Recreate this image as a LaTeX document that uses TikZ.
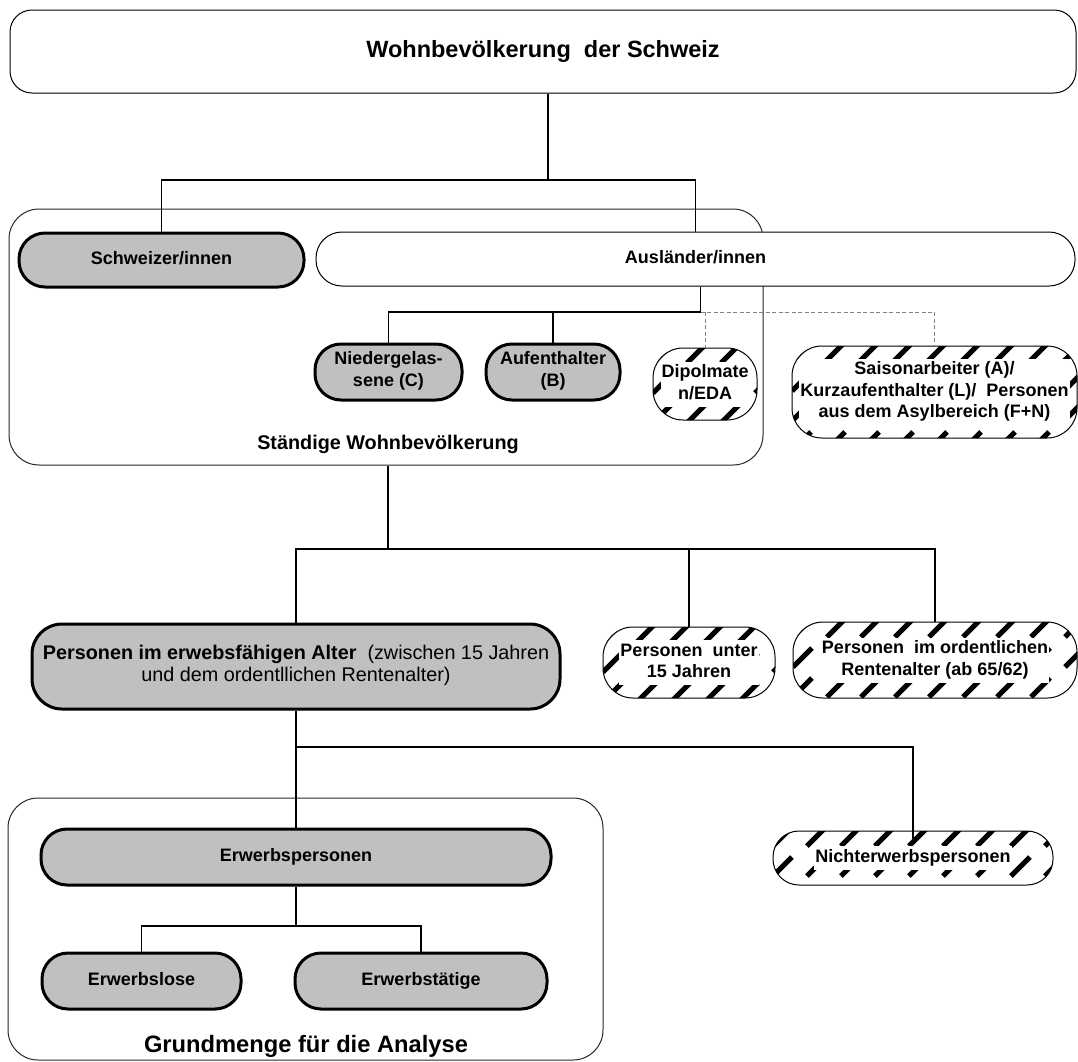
\documentclass[tikz,border=0pt]{standalone}
\usepackage{fontspec}
\setmainfont{Liberation Sans}
\usetikzlibrary{calc}
\definecolor{boxgray}{HTML}{C0C0C0}
\newcommand{\lbl}{\fontsize{18}{21.5}\selectfont\bfseries}
\newcommand{\wtext}[1]{{\setlength{\fboxsep}{1pt}\colorbox{white}{\begin{tabular}{@{}c@{}}#1\end{tabular}}}}
\begin{document}
\begin{tikzpicture}[x=1pt,y=-1pt,
  conn/.style={line width=1.2pt, black},
  dconn/.style={line width=1pt, black!50, dash pattern=on 4pt off 2.5pt},
  outerbox/.style={draw=black!85, line width=1pt, rounded corners=30pt, inner sep=0pt},
  whitebox/.style={draw=black, line width=1pt, fill=white, rounded corners=26pt, inner sep=0pt, font=\lbl},
  graybox/.style={draw=black, line width=3pt, fill=boxgray, rounded corners=26pt, inner sep=0pt, align=center, font=\lbl,
    execute at begin node=\strut, execute at end node=\strut},
  hatchbox/.style={draw=black, line width=1pt, fill=white, rounded corners=#1, inner sep=0pt, font=\lbl,
    path picture={
      \foreach \i in {-1,...,9}{
        \foreach \j in {0,...,4}{
          \draw[line width=5pt, black] ($(path picture bounding box.north west)+(\i*34,\j*30+15)$) -- ++(19,-19);
        }
      }
    }},
  hatchbox/.default=30pt
]
\useasboundingbox (0,0) rectangle (1078,1061);

% title
\node[whitebox, rounded corners=22pt, minimum width=1066pt, minimum height=83pt,
      font=\fontsize{23.5}{27}\selectfont\bfseries] (title) at (543,51.5) {Wohnbevölkerung\ \ der Schweiz};

% permanent resident population group
\node[outerbox, minimum width=754pt, minimum height=256pt] (staendig) at (386,337) {};
\node[font=\fontsize{19.8}{23}\selectfont\bfseries, inner sep=0pt] (staendiglbl) at (388,444) {Ständige Wohnbevölkerung};

\node[graybox, minimum width=285pt, minimum height=54pt] (schw) at (161.5,260) {Schweizer/innen};
\node[whitebox, minimum width=759pt, minimum height=54pt] (aus) at (695.5,259) {\strut Ausländer/innen};

\node[graybox, minimum width=147pt, minimum height=56pt] (ng) at (388.5,372) {Niedergelas-\\sene (C)};
\node[graybox, minimum width=134pt, minimum height=56pt] (auf) at (553,372) {Aufenthalter\\(B)};
\node[hatchbox, minimum width=104pt, minimum height=72pt] (dip) at (705,384) {\wtext{Dipolmate\\n/EDA}};
\node[hatchbox, minimum width=285pt, minimum height=92pt] (saison) at (934.5,392)
  {\wtext{Saisonarbeiter (A)/\\Kurzaufenthalter (L)/\ \ Personen\\aus dem Asylbereich (F+N)}};

% age groups
\node[graybox, rounded corners=30pt, minimum width=528pt, minimum height=85pt,
      font=\fontsize{19.8}{21.5}\selectfont] (pe) at (296,666.5)
  {\textbf{Personen im erwebsfähigen Alter}\ \ (zwischen 15 Jahren\\und dem ordentllichen Rentenalter)};
\node[hatchbox, minimum width=172pt, minimum height=71pt] (u15) at (689,662.5) {\wtext{Personen\ \ unter\\15 Jahren}};
\node[hatchbox, minimum width=284pt, minimum height=76pt] (rente) at (935,660)
  {\wtext{Personen\ \ im ordentlichen\\Rentenalter (ab 65/62)}};

% analysis group
\node[outerbox, minimum width=595pt, minimum height=262pt] (grund) at (305.5,929) {};
\node[font=\fontsize{23.7}{27}\selectfont\bfseries, inner sep=0pt] (grundlbl) at (306,1046) {Grundmenge für die Analyse};
\node[graybox, minimum width=510pt, minimum height=56pt] (ep) at (296,857) {Erwerbspersonen};
\node[graybox, minimum width=199pt, minimum height=56pt] (el) at (141.5,981) {Erwerbslose};
\node[graybox, minimum width=252pt, minimum height=56pt] (et) at (421,981) {Erwerbstätige};
\node[hatchbox=26pt, minimum width=280pt, minimum height=54pt] (nicht) at (913,858) {\wtext{Nichterwerbspersonen}};

% connectors
\coordinate (j1) at (548,180);
\draw[conn] (title.south -| j1) -- (j1);
\draw[conn] (schw.north) |- (j1) -| (aus.north);

\coordinate (j2) at (700.5,312);
\draw[conn] (aus.south -| j2) -- (j2) -| (ng.north);
\draw[conn] (auf.north) -- (auf.north |- j2);
\draw[dconn] (j2) -| (saison.north);
\draw[dconn] (dip.north |- j2) -- (dip.north);

\coordinate (j3) at (388,549);
\draw[conn] (staendig.south -| j3) -- (j3);
\draw[conn] (pe.north) |- (j3) -| (rente.north);
\draw[conn] (u15.north) -- (u15.north |- j3);

\coordinate (j4) at (296,747);
\draw[conn] (pe.south) -- (ep.north);
\draw[conn] (j4) -| ([yshift=-12pt]nicht.north);

\coordinate (j5) at (296,926);
\draw[conn] (ep.south) -- (j5);
\draw[conn] (el.north) |- (j5) -| (et.north);
\end{tikzpicture}
\end{document}
